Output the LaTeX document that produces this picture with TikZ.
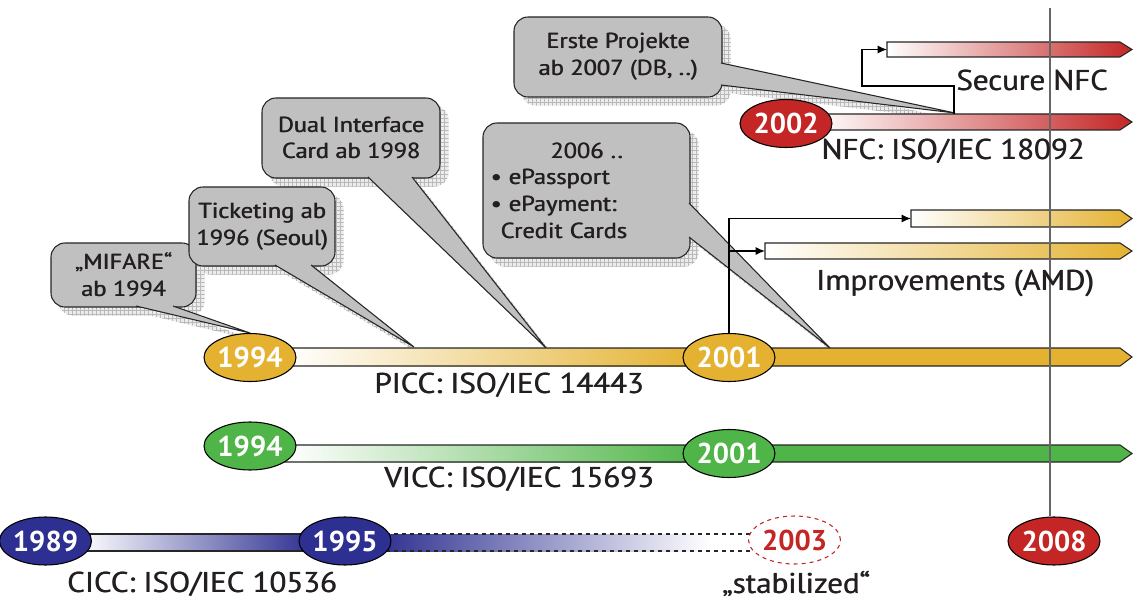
\documentclass[tikz,border=0pt]{standalone}
\usepackage{fontspec}
\setmainfont{PT Sans}
\newfontfamily\lblfont{PT Sans}[FakeStretch=1.08]
\newfontfamily\callfont{PT Sans}[FakeStretch=1.12]
\newcommand\fat[1]{\makebox[0pt][l]{\hspace*{0.45pt}#1}#1}
\usetikzlibrary{shapes.geometric,arrows.meta,patterns}
\definecolor{orangeC}{RGB}{228,178,48}
\definecolor{greenC}{RGB}{80,181,72}
\definecolor{blueC}{RGB}{46,48,145}
\definecolor{redC}{RGB}{196,38,38}
\definecolor{calloutgray}{RGB}{192,192,192}
\definecolor{textC}{RGB}{35,31,32}
\pgfdeclarelayer{bg}
\pgfsetlayers{bg,main}
\tikzset{
  year/.style={ellipse, draw=black, line width=0.8pt, minimum width=54.75pt, minimum height=36pt,
    inner sep=0pt, text=white, font=\fontsize{21.5}{21}\selectfont\bfseries},
  callbox/.style={draw=black!85, line width=0.8pt, fill=calloutgray, rounded corners=10.5pt,
    inner sep=0pt, align=center, font=\callfont\fontsize{16.3}{20}\selectfont, text=textC},
  pointer/.style={draw=black!85, line width=0.8pt, fill=calloutgray, line join=miter},
  shadowfill/.style={preaction={fill=gray!15}, pattern=grid, pattern color=gray!55},
  lbl/.style={font=\lblfont\fontsize{21.5}{25}\selectfont, text=textC, anchor=base, inner sep=0pt},
  baredge/.style={draw=black!85, line width=0.8pt},
  conn/.style={draw=black, line width=0.9pt, -{Latex[length=7pt,width=6pt]}},
}
% #1 options #2 name #3 center #4 width #5 height #6 base a #7 base b #8 tip #9 text
\newcommand\mkcallout[9]{%
  \node[callbox, minimum width=#4, minimum height=#5, #1] (#2) at #3 {#9};
  \coordinate (#2a) at #6; \coordinate (#2b) at #7; \coordinate (#2t) at #8;
  \path[pointer] (#2a) -- (#2t) -- (#2b);
  \begin{pgfonlayer}{bg}
    \path[shadowfill, rounded corners=10.5pt] ([shift={(8,8)}]#2.south west) rectangle ([shift={(8,8)}]#2.north east);
    \path[shadowfill] ([shift={(8,8)}]#2a) -- ([shift={(8,8)}]#2t) -- ([shift={(8,8)}]#2b) -- cycle;
  \end{pgfonlayer}%
}
\begin{document}
\begin{tikzpicture}[x=0.75pt,y=-0.75pt]
\useasboundingbox (0,0) rectangle (1134,602);

% ---------- callouts
\mkcallout{}{c1}{(123.5,275)}{108.75pt}{48pt}{(136,306)}{(173,306)}{(250,333)}{\fat{„MIFARE“}\\\fat{ab 1994}}
\mkcallout{}{c2}{(262,226.5)}{109.5pt}{59.25pt}{(275,265)}{(311,265)}{(414,347)}{\fat{Ticketing ab}\\\fat{1996 (Seoul)}}
\mkcallout{}{c3}{(351,138)}{133.5pt}{60pt}{(368,177)}{(412,177)}{(546,348)}{\fat{Dual Interface}\\\fat{Card ab 1998}}
\mkcallout{text width=144pt, align=left}{c4}{(586.5,190.5)}{155.25pt}{101.25pt}{(689,203)}{(689,237)}{(830,348)}{{\centering \fat{2006 ..}\par}\fat{• ePassport}\\\fat{• ePayment:}\\\hspace*{7.5pt}\fat{Credit Cards}}
\mkcallout{}{c5}{(618,57)}{156pt}{60pt}{(721,63)}{(721,85)}{(955,113)}{\fat{Erste Projekte}\\\fat{ab 2007 (DB, ..)}}

% ---------- bars
% PICC
\shade[left color=white, right color=orangeC] (286,348) rectangle (700,366);
\fill[orangeC] (700,348) -- (1120,348) -- (1132,357) -- (1120,366) -- (700,366) -- cycle;
\draw[baredge] (280,348) -- (1120,348) -- (1132,357) -- (1120,366) -- (280,366);
% VICC
\shade[left color=white, right color=greenC] (286,445) rectangle (700,462);
\fill[greenC] (700,445) -- (1120,445) -- (1132,453.5) -- (1120,462) -- (700,462) -- cycle;
\draw[baredge] (280,445) -- (1120,445) -- (1132,453.5) -- (1120,462) -- (280,462);
% CICC
\shade[left color=white, right color=blueC] (80,534) rectangle (312,551);
\draw[baredge] (80,534) -- (312,534) (80,551) -- (312,551);
\shade[left color=blueC, right color=white] (378,534) rectangle (710,551);
\draw[baredge, dashed] (378,534) -- (760,534) (378,551) -- (760,551);
% Improvements
\shadedraw[left color=white, right color=orangeC, baredge] (911,210) -- (1120,210) -- (1132,218.5) -- (1120,227) -- (911,227) -- cycle;
\shadedraw[left color=white, right color=orangeC, baredge] (765,243) -- (1120,243) -- (1132,251) -- (1120,259) -- (765,259) -- cycle;
% NFC
\shadedraw[left color=white, right color=redC, baredge] (815,114) -- (1120,114) -- (1132,122) -- (1120,130) -- (815,130) -- cycle;
\shadedraw[left color=white, right color=redC, baredge] (887,42) -- (1120,42) -- (1132,49.5) -- (1120,57) -- (887,57) -- cycle;

% ---------- year nodes
\node[year, fill=orangeC] (p94) at (250,357.5) {1994};
\node[year, fill=orangeC] (p01) at (729,357.5) {2001};
\node[year, fill=greenC] (v94) at (250,446) {1994};
\node[year, fill=greenC] (v01) at (729,453.5) {2001};
\node[year, fill=blueC] (c89) at (45.5,541) {1989};
\node[year, fill=blueC] (c95) at (345,541) {1995};
\node[year, fill=white, draw=redC, dashed, text=redC] (c03) at (794.5,540) {2003};
\node[year, fill=redC] (n02) at (786,123.5) {2002};

% vertical 2008 line
\coordinate (top08) at (1050,8);
\node[year, fill=redC] (y08) at (1054,541) {2008};
\draw[black!60, line width=0.9pt] (top08) -- (top08 |- y08.north);

% ---------- connectors
\coordinate (imp1) at (911,218.5);
\coordinate (imp2) at (765,251);
\draw[conn] (p01.north) |- (imp1);
\draw[conn] (p01.north |- imp2) -- (imp2);
\coordinate (nfcj) at (954,114);
\coordinate (secn) at (887,49.5);
\draw[conn] (nfcj) |- (862,86) |- (secn);

% ---------- labels
\node[lbl] (lpicc) at (509,393) {\fat{PICC: ISO/IEC 14443}};
\node[lbl] (lvicc) at (519,487) {\fat{VICC: ISO/IEC 15693}};
\node[lbl] (lcicc) at (202,592) {\fat{CICC: ISO/IEC 10536}};
\node[lbl] (lstab) at (796,593) {\fat{„stabilized“}};
\node[lbl] (lnfc) at (953,160) {\fat{NFC: ISO/IEC 18092}};
\node[lbl] (lsec) at (1032,91) {\fat{Secure NFC}};
\node[lbl] (limp) at (955,290) {\fat{Improvements (AMD)}};
\end{tikzpicture}
\end{document}
